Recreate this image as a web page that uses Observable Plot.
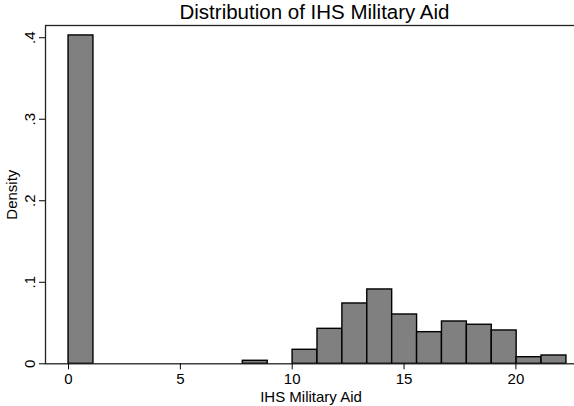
<!DOCTYPE html>
<html>
<head>
<meta charset="utf-8">
<script src="https://cdn.jsdelivr.net/npm/d3@7"></script>
<script src="https://cdn.jsdelivr.net/npm/@observablehq/plot@0.6"></script>
<style>
  html, body { margin: 0; padding: 0; background: #fff; }
  svg { display: block; }
</style>
</head>
<body>
<div id="chart"></div>
<script>
// Histogram bins (lower edges) and densities
const binWidth = 1.113;
const binStart = [0, 7.791, 10.017, 11.13, 12.243, 13.356, 14.469, 15.582, 16.695, 17.808, 18.921, 20.034, 21.147];
const density  = [0.4028, 0.0037, 0.0172, 0.0429, 0.0740, 0.0912, 0.0605, 0.0388, 0.0519, 0.0479, 0.0409, 0.0081, 0.0102];

const xTicks = [0, 5, 10, 15, 20];
const yTicks = [0, 0.1, 0.2, 0.3, 0.4];
const yTickLabels = ["0", ".1", ".2", ".3", ".4"];

const titleText = "Distribution of IHS Military Aid";
const xLabel = "IHS Military Aid";
const yLabel = "Density";

const bins = binStart.map((s, i) => ({x1: s, x2: s + binWidth, y: density[i]}));
const yLab = yTicks.map((v, i) => ({v, t: yTickLabels[i]}));

const font = "'Liberation Sans', Arial, Helvetica, sans-serif";

const chart = Plot.plot({
  width: 574,
  height: 406,
  marginLeft: 45,
  marginRight: -2,
  marginTop: 25,
  marginBottom: 42.7,
  style: {fontFamily: font, fontSize: "14.5px", background: "#fff", color: "#000", overflow: "hidden"},
  x: {domain: [-1.03, 22.71]},
  y: {domain: [0, 0.415]},
  marks: [
    Plot.rectY(bins, {x1: "x1", x2: "x2", y: "y", fill: "#808080", stroke: "#000", strokeWidth: 1.4}),
    Plot.frame({stroke: "#222", strokeWidth: 1.3}),
    Plot.axisX({ticks: xTicks, tickSize: 6, tickPadding: 4, tickFormat: d => String(d), label: null, fontSize: 15, stroke: "#000"}),
    Plot.axisY({ticks: yTicks, tickSize: 6, tickFormat: () => "", label: null, stroke: "#000"}),
    Plot.text(yLab, {y: "v", text: "t", frameAnchor: "left", dx: -15, rotate: -90, textAnchor: "middle", lineAnchor: "middle", fontSize: 15, fill: "#000"}),
    Plot.text([yLabel], {text: d => d, frameAnchor: "left", dx: -33, rotate: -90, textAnchor: "middle", lineAnchor: "middle", fontSize: 15, fill: "#000"}),
    Plot.text([xLabel], {text: d => d, frameAnchor: "bottom", dy: 33, textAnchor: "middle", lineAnchor: "middle", fontSize: 15, fill: "#000"}),
    Plot.text([titleText], {text: d => d, frameAnchor: "top", dx: 3.5, dy: -13, textAnchor: "middle", lineAnchor: "middle", fontSize: 20.5, fill: "#000"})
  ]
});
document.getElementById("chart").appendChild(chart);
</script>
</body>
</html>
